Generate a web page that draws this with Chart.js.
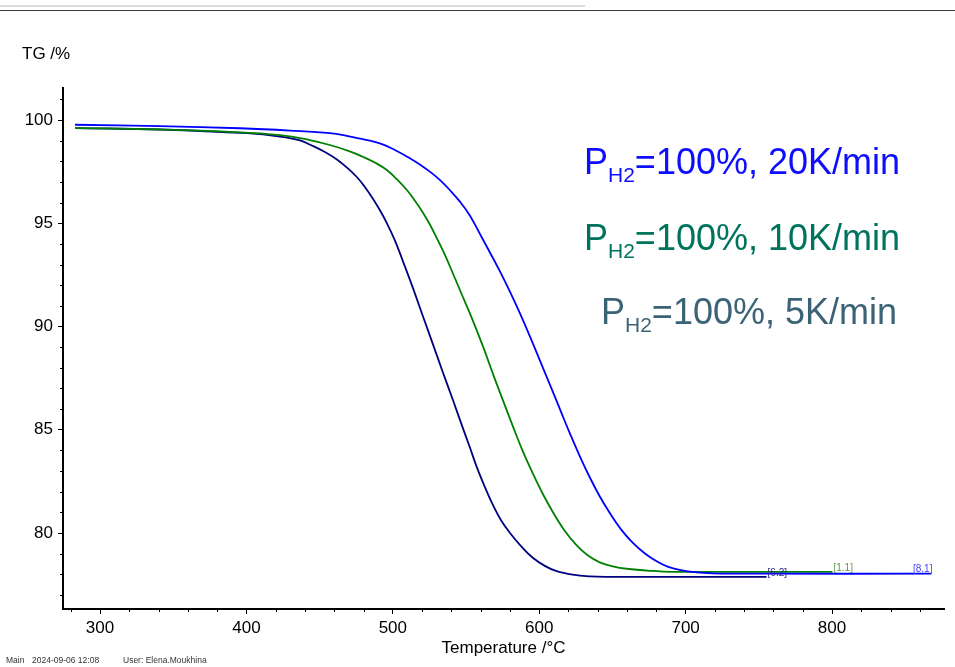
<!DOCTYPE html>
<html>
<head>
<meta charset="utf-8">
<script src="https://cdn.jsdelivr.net/npm/chart.js@4.4.1/dist/chart.umd.min.js"></script>
<style>
  body { margin: 0; background: #fff; }
  #wrap { position: relative; width: 955px; height: 667px; }
  #tgChart { display: block; }
  .rule1 { position: absolute; left: 0; top: 5px; width: 585px; height: 2px; background: #dcdcdc; }
  .rule2 { position: absolute; left: 0; top: 10px; width: 955px; height: 1px; background: #3a3a3a; }
</style>
</head>
<body>
<div id="wrap">
  <canvas id="tgChart" width="955" height="667"></canvas>
  <div class="rule1"></div>
  <div class="rule2"></div>
</div>
<script>
// TG curves: temperature (°C) and mass (%)
const temp20 = [282.9, 341.0, 395.6, 429.7, 457.0, 474.1, 491.1, 501.4, 511.6, 518.4, 525.3, 532.1, 538.9, 545.7, 552.6, 560.8, 566.9, 573.0, 579.9, 586.7, 593.5, 600.3, 605.8, 611.3, 616.0, 620.8, 627.6, 634.5, 641.3, 648.1, 655.6, 663.8, 672.0, 680.2, 687.7, 695.9, 707.5, 718.4, 750.5, 867.9];
const tg20   = [99.77, 99.70, 99.60, 99.49, 99.36, 99.15, 98.87, 98.55, 98.15, 97.85, 97.50, 97.10, 96.61, 96.06, 95.38, 94.31, 93.51, 92.69, 91.70, 90.66, 89.55, 88.38, 87.44, 86.50, 85.67, 84.85, 83.74, 82.70, 81.78, 80.98, 80.20, 79.53, 79.02, 78.63, 78.37, 78.21, 78.09, 78.05, 78.03, 78.03];

const temp10 = [282.9, 341.0, 388.7, 422.9, 443.3, 457.0, 470.6, 479.5, 487.7, 495.9, 502.7, 509.6, 515.0, 520.5, 525.3, 530.0, 534.8, 538.9, 546.4, 554.6, 562.1, 568.9, 575.1, 581.9, 588.7, 595.6, 602.4, 609.2, 617.4, 625.6, 633.1, 641.3, 650.2, 659.7, 675.4, 691.1, 800.3];
const tg10   = [99.61, 99.54, 99.43, 99.27, 99.03, 98.79, 98.48, 98.22, 97.94, 97.58, 97.14, 96.61, 96.10, 95.52, 94.94, 94.29, 93.59, 92.93, 91.67, 90.30, 88.94, 87.61, 86.45, 85.19, 83.98, 82.89, 81.90, 81.03, 80.11, 79.40, 78.92, 78.58, 78.39, 78.27, 78.17, 78.12, 78.12];

const temp5 = [282.9, 341.0, 400.3, 422.9, 436.5, 445.4, 453.6, 461.8, 468.6, 475.4, 480.9, 486.3, 491.1, 495.9, 501.4, 506.8, 513.7, 520.5, 527.3, 534.1, 541.0, 547.8, 552.6, 557.3, 562.8, 568.3, 573.7, 579.9, 587.4, 595.6, 603.8, 611.9, 622.9, 634.5, 646.1, 755.3];
const tg5   = [99.61, 99.54, 99.36, 99.20, 99.01, 98.74, 98.45, 98.09, 97.70, 97.24, 96.76, 96.20, 95.64, 95.01, 94.17, 93.18, 91.87, 90.51, 89.16, 87.80, 86.45, 85.09, 84.15, 83.20, 82.24, 81.37, 80.64, 80.01, 79.38, 78.80, 78.41, 78.15, 77.98, 77.90, 77.88, 77.88];

const rateNames = ['20K/min', '10K/min', '5K/min'];
const endLabels = ['[8.1]', '[1.1]', '[6.2]'];
const xTicks = [300, 400, 500, 600, 700, 800];
const yTicks = [80, 85, 90, 95, 100];

const lineColors = ['#0000ff', '#008000', '#000080'];
const labelColors = ['#4444ee', '#5f9a3c', '#2a2a80'];
const legendColors = ['#0d0dff', '#00735c', '#3b6376'];
const legendPos = [{ x: 584, y: 174 }, { x: 584, y: 250 }, { x: 601, y: 324 }];

const FONT = '"Liberation Sans", Arial, sans-serif';

function toPoints(xs, ys) {
    return xs.map((x, i) => ({ x: x, y: ys[i] }));
}

// extra drawing: minor ticks, titles, end labels, legend text, footer
const decorPlugin = {
    id: 'decor',
    afterDraw(chart) {
        const ctx = chart.ctx;
        const xs = chart.scales.x, ys = chart.scales.y;
        const area = chart.chartArea;
        ctx.save();

        // minor ticks
        ctx.strokeStyle = '#000';
        ctx.lineWidth = 1;
        ctx.beginPath();
        for (let v = 280; v <= 860; v += 20) {
            if (xTicks.includes(v)) continue;
            const px = Math.round(xs.getPixelForValue(v)) + 0.5;
            ctx.moveTo(px, area.bottom);
            ctx.lineTo(px, area.bottom + 3);
        }
        for (let v = 77; v <= 101; v += 1) {
            if (yTicks.includes(v)) continue;
            const py = Math.round(ys.getPixelForValue(v)) + 0.5;
            ctx.moveTo(area.left, py);
            ctx.lineTo(area.left - 3, py);
        }
        ctx.stroke();

        // y axis title
        ctx.fillStyle = '#000';
        ctx.font = '17px ' + FONT;
        ctx.textAlign = 'left';
        ctx.textBaseline = 'middle';
        ctx.fillText('TG /%', 22, 54);

        // labels at the end of each curve
        ctx.font = '10px ' + FONT;
        ctx.textBaseline = 'bottom';
        chart.data.datasets.forEach((ds, i) => {
            const last = ds.data[ds.data.length - 1];
            const px = xs.getPixelForValue(last.x);
            const py = ys.getPixelForValue(last.y);
            ctx.fillStyle = labelColors[i];
            ctx.textAlign = i === 0 ? 'right' : 'left';
            ctx.fillText(endLabels[i], px + 1, py + 1);
        });

        // legend text  P(H2)=100%, rate
        ctx.textAlign = 'left';
        ctx.textBaseline = 'alphabetic';
        rateNames.forEach((name, i) => {
            let x = legendPos[i].x;
            const y = legendPos[i].y;
            ctx.fillStyle = legendColors[i];
            ctx.font = '36px ' + FONT;
            ctx.fillText('P', x, y);
            x += ctx.measureText('P').width;
            ctx.font = '21px ' + FONT;
            ctx.fillText('H2', x, y + 8);
            x += ctx.measureText('H2').width;
            ctx.font = '36px ' + FONT;
            ctx.fillText('=100%, ' + name, x, y);
        });

        // footer
        ctx.fillStyle = '#333';
        ctx.font = '8.5px ' + FONT;
        ctx.textBaseline = 'middle';
        ctx.fillText('Main', 6, 661);
        ctx.fillText('2024-09-06 12:08', 32, 661);
        ctx.fillText('User: Elena.Moukhina', 123, 661);

        ctx.restore();
    }
};

new Chart(document.getElementById('tgChart'), {
    type: 'line',
    data: {
        datasets: [
            { label: rateNames[0], data: toPoints(temp20, tg20), borderColor: lineColors[0] },
            { label: rateNames[1], data: toPoints(temp10, tg10), borderColor: lineColors[1] },
            { label: rateNames[2], data: toPoints(temp5, tg5), borderColor: lineColors[2] }
        ]
    },
    options: {
        responsive: false,
        animation: false,
        parsing: false,
        datasets: {
            line: { borderWidth: 1.8, pointRadius: 0, tension: 0.4, fill: false }
        },
        layout: { padding: { top: 88, right: 11, left: 0, bottom: 0 } },
        plugins: { legend: { display: false }, tooltip: { enabled: false } },
        scales: {
            x: {
                type: 'linear',
                position: 'bottom',
                min: 274.7,
                max: 876.5,
                afterBuildTicks: s => { s.ticks = xTicks.map(v => ({ value: v })); },
                afterFit: s => { s.height = 58; },
                ticks: { color: '#000', font: { family: FONT, size: 17 }, padding: 4, maxRotation: 0, autoSkip: false },
                grid: { drawOnChartArea: false, drawTicks: true, tickLength: 5, tickColor: '#000', tickWidth: 1 },
                border: { display: true, color: '#000', width: 2 },
                title: { display: true, text: 'Temperature /°C', color: '#000', font: { family: FONT, size: 17 }, padding: { top: 0, bottom: 8 } }
            },
            y: {
                type: 'linear',
                min: 76.32,
                max: 101.55,
                afterBuildTicks: s => { s.ticks = yTicks.map(v => ({ value: v })); },
                afterFit: s => { s.width = 63; },
                ticks: { color: '#000', font: { family: FONT, size: 17 }, padding: 5 },
                grid: { drawOnChartArea: false, drawTicks: true, tickLength: 5, tickColor: '#000', tickWidth: 1 },
                border: { display: true, color: '#000', width: 2 }
            }
        }
    },
    plugins: [decorPlugin]
});
</script>
</body>
</html>
